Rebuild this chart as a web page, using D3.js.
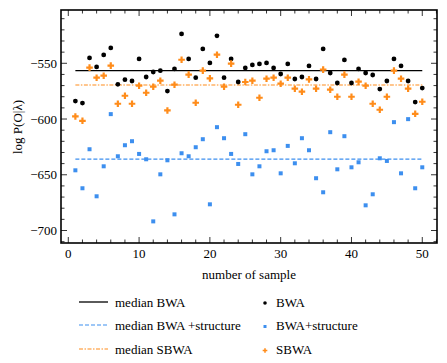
<!DOCTYPE html>
<html>
<head>
<meta charset="utf-8">
<script src="https://cdn.jsdelivr.net/npm/d3@7"></script>
<style>
  body { margin: 0; background: #fff; }
  svg { display: block; }
  svg text { font-family: "Liberation Serif", "DejaVu Serif", serif; font-size: 13px; }
</style>
</head>
<body>
<div id="chart"></div>
<script>
// values, one per sample (1..50)
const samples = d3.range(1, 51);
const bwa = [-583.9, -585.7, -545.2, -553.3, -542.5, -536.2, -568.9, -564.7, -565.9, -546.1,
  -562.3, -557.8, -556.6, -574.9, -555.1, -523.7, -546.1, -562.9, -537.1, -549.7,
  -525.4, -562.9, -546.1, -566.8, -554.2, -551.5, -550.6, -549.7, -554.2, -559.6,
  -550.6, -564.1, -562.3, -552.4, -564.1, -537.1, -558.7, -567.7, -547.0, -567.7,
  -555.1, -558.7, -560.5, -573.1, -565.9, -546.1, -552.4, -565.9, -584.8, -572.2];
const bwaStructure = [-646.0, -662.1, -627.1, -669.3, -642.4, -595.6, -633.4, -623.5, -619.9, -631.3,
  -636.1, -691.8, -649.6, -637.0, -685.5, -630.7, -633.4, -625.3, -618.1, -676.5,
  -607.3, -617.2, -631.3, -640.3, -613.6, -649.6, -642.4, -628.9, -628.0, -648.7,
  -624.1, -639.7, -617.2, -628.0, -653.1, -665.7, -611.8, -645.1, -615.4, -643.3,
  -638.8, -677.4, -667.5, -635.2, -637.6, -602.8, -648.7, -600.1, -662.1, -643.3];
const sbwa = [-597.7, -601.6, -553.9, -562.9, -561.1, -552.1, -586.3, -579.1, -586.3, -570.1,
  -576.4, -571.0, -565.6, -592.3, -569.2, -546.8, -560.2, -585.4, -556.6, -563.5,
  -542.3, -571.0, -550.3, -587.2, -566.8, -565.6, -580.9, -563.8, -562.9, -568.3,
  -562.9, -572.8, -575.5, -564.4, -572.8, -555.7, -573.7, -580.0, -560.2, -580.0,
  -566.5, -570.1, -586.3, -591.7, -580.0, -556.6, -563.8, -572.8, -595.3, -584.5];
const medians = [-556.5, -636.0, -569.5];
const xTicks = [0, 10, 20, 30, 40, 50];
const yTicks = [-550, -600, -650, -700];

const width = 447, height = 363;
const black = "#000", blue = "#3d8fef", orange = "#ff8c1a";

const svg = d3.select("#chart").append("svg")
    .attr("width", width)
    .attr("height", height);

const x = d3.scaleLinear().domain([-1.03, 52.08]).range([61, 437]);
const y = d3.scaleLinear().domain([-711.2, -502.2]).range([243, 10]);

// ticks on all four sides, pointing inwards
const tick = (g, scale, values, len, side) => {
  g.selectAll(null).data(values).join("line")
      .attr("stroke", black)
      .attr("stroke-width", 0.8)
      .each(function(v) {
        const s = d3.select(this);
        if (side === "bottom") s.attr("x1", scale(v)).attr("x2", scale(v)).attr("y1", 243).attr("y2", 243 - len);
        if (side === "top") s.attr("x1", scale(v)).attr("x2", scale(v)).attr("y1", 10).attr("y2", 10 + len);
        if (side === "left") s.attr("y1", scale(v)).attr("y2", scale(v)).attr("x1", 61).attr("x2", 61 + len);
        if (side === "right") s.attr("y1", scale(v)).attr("y2", scale(v)).attr("x1", 437).attr("x2", 437 - len);
      });
};
const axes = svg.append("g");
const xMinor = d3.range(0, 53, 2).filter(v => v % 10 !== 0);
const yMinor = d3.range(-710, -500, 10).filter(v => v % 50 !== 0);
const yMajor = d3.range(-700, -500, 50);
["bottom", "top"].forEach(s => { tick(axes, x, xTicks, 6, s); tick(axes, x, xMinor, 3.5, s); });
["left", "right"].forEach(s => { tick(axes, y, yMajor, 6, s); tick(axes, y, yMinor, 3.5, s); });

axes.append("rect")
    .attr("x", 61).attr("y", 10).attr("width", 376).attr("height", 233)
    .attr("fill", "none").attr("stroke", black).attr("stroke-width", 1.6);

axes.selectAll(".xl").data(xTicks).join("text")
    .attr("x", d => x(d)).attr("y", 258)
    .attr("text-anchor", "middle")
    .text(d => d);
axes.selectAll(".yl").data(yTicks).join("text")
    .attr("x", 57).attr("y", d => y(d)).attr("dy", "0.35em")
    .attr("text-anchor", "end")
    .text(d => "\u2212" + Math.abs(d));

svg.append("text")
    .attr("x", 249).attr("y", 279)
    .attr("text-anchor", "middle")
    .text("number of sample");
svg.append("text")
    .attr("transform", "translate(22,127) rotate(-90)")
    .attr("text-anchor", "middle")
    .text("log P(O|\u03bb)");

// median lines
const lineStyles = [
  { color: black, dash: null, width: 1.3 },
  { color: blue, dash: "4,2", width: 1.1 },
  { color: orange, dash: "4,1.5,1.5,1.5", width: 1.1 }
];
svg.append("g").selectAll("line").data(medians).join("line")
    .attr("x1", x(1)).attr("x2", x(50))
    .attr("y1", d => y(d)).attr("y2", d => y(d))
    .attr("stroke", (d, i) => lineStyles[i].color)
    .attr("stroke-width", (d, i) => lineStyles[i].width)
    .attr("stroke-dasharray", (d, i) => lineStyles[i].dash);

// points
const pts = svg.append("g");
pts.selectAll(".b").data(samples).join("circle")
    .attr("cx", d => x(d)).attr("cy", (d, i) => y(bwa[i]))
    .attr("r", 2.4).attr("fill", black);
pts.selectAll(".s").data(samples).join("rect")
    .attr("x", d => x(d) - 2).attr("y", (d, i) => y(bwaStructure[i]) - 2)
    .attr("width", 4).attr("height", 4).attr("fill", blue);
const cross = d3.symbol().type(d3.symbolCross).size(24);
pts.selectAll(".o").data(samples).join("path")
    .attr("transform", (d, i) => `translate(${x(d)},${y(sbwa[i])})`)
    .attr("d", cross).attr("fill", orange);

// legend
const legendNames = ["median BWA", "median BWA +structure", "median SBWA"];
const pointNames = ["BWA", "BWA+structure", "SBWA"];
const rowY = [302, 325, 349];
const legend = svg.append("g");
legend.selectAll(".ll").data(legendNames).join("line")
    .attr("x1", 79).attr("x2", 108)
    .attr("y1", (d, i) => rowY[i]).attr("y2", (d, i) => rowY[i])
    .attr("stroke", (d, i) => lineStyles[i].color)
    .attr("stroke-width", (d, i) => lineStyles[i].width)
    .attr("stroke-dasharray", (d, i) => lineStyles[i].dash);
legend.selectAll(".lt").data(legendNames).join("text")
    .attr("x", 115).attr("y", (d, i) => rowY[i]).attr("dy", "0.35em")
    .text(d => d);
legend.append("circle").attr("cx", 265).attr("cy", rowY[0] + 1).attr("r", 1.8).attr("fill", black);
legend.append("rect").attr("x", 263.5).attr("y", rowY[1]).attr("width", 3).attr("height", 3).attr("fill", blue);
legend.append("path").attr("transform", `translate(265,${rowY[2] + 1.5})`)
    .attr("d", d3.symbol().type(d3.symbolCross).size(12)).attr("fill", orange);
legend.selectAll(".pt").data(pointNames).join("text")
    .attr("x", 276).attr("y", (d, i) => rowY[i]).attr("dy", "0.35em")
    .text(d => d);
</script>
</body>
</html>
